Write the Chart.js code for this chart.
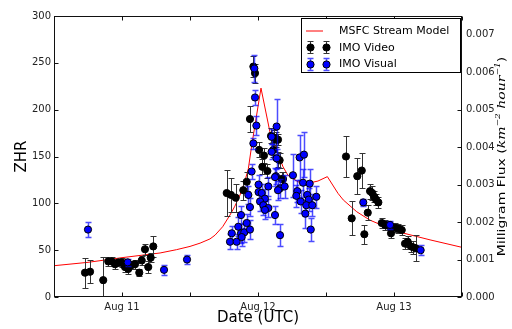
<!DOCTYPE html>
<html>
<head>
<meta charset="utf-8">
<script src="https://cdn.jsdelivr.net/npm/chart.js@4.4.0/dist/chart.umd.min.js"></script>
<style>
  html, body { margin: 0; padding: 0; background: #fff; }
  #myChart { display: block; }
</style>
</head>
<body>
<canvas id="myChart" width="512" height="329"></canvas>
<script>
// x values are days of August (UTC), 12.0 = Aug 12 00:00
const modelDay = [10.5, 10.75, 11.0, 11.28, 11.4, 11.5, 11.574, 11.647, 11.684, 11.74, 11.794, 11.83, 11.868, 11.9, 11.929, 11.954, 12.022, 12.088, 12.147, 12.184, 12.22, 12.294, 12.368, 12.441, 12.51, 12.588, 12.627, 12.726, 12.824, 13.02, 13.265, 13.5];
const modelZhr = [33.4, 37, 42, 47, 50.5, 54, 57.5, 62, 66, 75, 87.5, 97, 109, 122, 137, 162, 223, 176, 153, 139, 130, 123, 121.4, 123.8, 128.5, 110.7, 103.6, 91, 82, 70, 61, 53];

const videoDay = [10.728, 10.765, 10.862, 10.899, 10.924, 10.949, 10.973, 10.998, 11.022, 11.046, 11.071, 11.096, 11.127, 11.145, 11.169, 11.193, 11.211, 11.230,
  11.770, 11.801, 11.836, 11.892, 11.917, 11.941, 11.966, 11.978, 12.008, 12.044, 12.032, 12.069, 12.096, 12.120, 12.112, 12.132, 12.149, 12.159, 12.174, 12.184, 12.147,
  12.647, 12.689, 12.730, 12.763, 12.782, 12.807, 12.824, 12.840, 12.855, 12.868, 12.885, 12.910, 12.934, 12.958, 12.978, 13.007, 13.032, 13.057, 13.081, 13.101, 13.125, 13.142, 13.162];
const videoZhr = [26, 27, 18, 38, 38, 35, 37, 37, 32, 30, 34, 35, 26, 39, 51, 32, 42, 54,
  111, 109, 106, 114, 123, 190, 246, 239, 157, 151, 139, 134.5, 172, 170, 157, 168, 147, 146, 126, 126, 168,
  150, 84, 129, 135, 67, 90, 113, 111, 107, 104, 101, 79, 77, 76, 68, 74, 73, 71.5, 57, 59, 54, 53, 52];
const videoErr = [16, 12, 25, 5, 5, 5, 4, 5, 5, 5, 4, 5, 4, 5, 6, 6, 5, 11,
  25, 18, 15, 10, 10, 14, 11, 10, 8, 8, 8, 7, 8, 8, 8, 8, 8, 8, 7, 7, 6,
  22, 18, 19, 19, 10, 8, 8, 7, 6, 6, 6, 5, 5, 5, 5, 5, 5, 5, 6, 6, 6, 7, 14];

const visualDay = [10.75, 11.042, 11.309, 11.478,
  11.973, 11.978, 11.988, 11.966, 12.137, 12.100, 12.100, 11.953, 12.132, 11.929, 11.941, 11.875, 11.917, 11.855, 11.875, 11.899, 11.807, 11.794, 11.843,
  12.004, 12.004, 12.027, 12.051, 12.015, 12.039, 12.076, 12.051, 12.125, 12.076, 12.125, 12.137, 12.162, 12.162, 12.196, 12.147, 11.880, 11.941,
  12.257, 12.306, 12.338, 12.331, 12.380, 12.289, 12.282, 12.314, 12.362, 12.373, 12.355, 12.399, 12.429, 12.348, 12.388,
  12.774, 12.971, 13.196];
const visualZhr = [72, 37, 29, 40,
  244, 213, 183, 164, 182, 171, 155, 134, 129, 109, 96, 87.5, 79, 75, 68, 69, 68, 59, 59,
  120, 112, 111, 105, 102, 98, 95, 93, 87.5, 118, 128, 148, 116, 66, 118, 114, 64, 72,
  130, 149, 152, 122, 121, 113, 108, 102, 109, 104, 98, 98, 107, 89, 72,
  101, 77, 50];
const visualErr = [8, 4, 5, 5,
  14, 8, 10, 6, 29, 8, 8, 8, 8, 10, 10, 10, 10, 10, 10, 10, 8, 8, 8,
  10, 10, 10, 10, 10, 10, 10, 10, 10, 10, 10, 10, 10, 12, 12, 10, 10, 10,
  23, 24, 24, 15, 16, 12, 12, 12, 12, 12, 12, 12, 12, 15, 12,
  4, 4, 5];

const tickDays = [10.5, 11, 11.5, 12, 12.5, 13, 13.5];
const labelDays = [11, 12, 13];
const labelNames = ["Aug 11", "Aug 12", "Aug 13"];
const zhrTicks = [0, 50, 100, 150, 200, 250, 300];
const fluxTicks = [0, 0.001, 0.002, 0.003, 0.004, 0.005, 0.006, 0.007];

const legendItems = ["MSFC Stream Model", "IMO Video", "IMO Visual"];

const pts = (xs, ys) => xs.map((x, i) => ({ x: x, y: ys[i] }));

// error bars, drawn just before each scatter series
const errorBars = {
  id: "errorBars",
  beforeDatasetDraw(chart, args) {
    const ds = chart.data.datasets[args.index];
    if (!ds.errors) return;
    const ctx = chart.ctx, a = chart.chartArea;
    const xs = chart.scales.x, ys = chart.scales.y;
    ctx.save();
    ctx.beginPath();
    ctx.rect(a.left, a.top, a.right - a.left, a.bottom - a.top);
    ctx.clip();
    ctx.strokeStyle = ds.errorColor;
    ctx.lineWidth = ds.errorWidth;
    ds.data.forEach((p, i) => {
      const px = Math.round(xs.getPixelForValue(p.x)) + 0.5;
      const y0 = Math.round(ys.getPixelForValue(p.y - ds.errors[i])) + 0.5;
      const y1 = Math.round(ys.getPixelForValue(p.y + ds.errors[i])) + 0.5;
      ctx.beginPath();
      ctx.moveTo(px, y0); ctx.lineTo(px, y1);
      ctx.moveTo(px - 3, y0); ctx.lineTo(px + 3, y0);
      ctx.moveTo(px - 3, y1); ctx.lineTo(px + 3, y1);
      ctx.stroke();
    });
    ctx.restore();
  },
};

function errMarker(ctx, x, y, fill, bar, bw) {
  ctx.strokeStyle = bar;
  ctx.lineWidth = bw;
  ctx.beginPath();
  ctx.moveTo(x, y - 6); ctx.lineTo(x, y + 6);
  ctx.moveTo(x - 3, y - 6); ctx.lineTo(x + 3, y - 6);
  ctx.moveTo(x - 3, y + 6); ctx.lineTo(x + 3, y + 6);
  ctx.stroke();
  ctx.beginPath();
  ctx.arc(x, y, 3.6, 0, Math.PI * 2);
  ctx.fillStyle = fill;
  ctx.fill();
  ctx.strokeStyle = "#000";
  ctx.lineWidth = 1;
  ctx.stroke();
}

// frame, ticks, axis titles and legend (matplotlib look)
const decor = {
  id: "decor",
  afterDraw(chart) {
    const ctx = chart.ctx, a = chart.chartArea;
    const xs = chart.scales.x, ys = chart.scales.y, y2 = chart.scales.y2;
    const L = Math.round(a.left) + 0.5, R = Math.round(a.right) - 0.5;
    const T = Math.round(a.top) + 0.5, B = Math.round(a.bottom) - 0.5;
    ctx.save();
    ctx.strokeStyle = "#111";
    ctx.lineWidth = 1;
    ctx.strokeRect(L, T, R - L, B - T);
    ctx.beginPath();
    tickDays.forEach((d) => {
      const px = Math.round(xs.getPixelForValue(d)) + 0.5;
      ctx.moveTo(px, B); ctx.lineTo(px, B - 4);
      ctx.moveTo(px, T); ctx.lineTo(px, T + 4);
    });
    zhrTicks.forEach((v) => {
      const py = Math.round(ys.getPixelForValue(v)) + 0.5;
      ctx.moveTo(L, py); ctx.lineTo(L + 4, py);
    });
    fluxTicks.forEach((v) => {
      const py = Math.round(y2.getPixelForValue(v)) + 0.5;
      ctx.moveTo(R, py); ctx.lineTo(R - 4, py);
    });
    ctx.stroke();

    // axis titles
    ctx.fillStyle = "#000";
    ctx.textBaseline = "middle";
    ctx.textAlign = "center";
    ctx.font = '15px "DejaVu Sans"';
    ctx.fillText("Date (UTC)", (a.left + a.right) / 2, 318);
    ctx.save();
    ctx.translate(22, (a.top + a.bottom) / 2);
    ctx.rotate(-Math.PI / 2);
    ctx.fillText("ZHR", 0, 0);
    ctx.restore();

    const parts = [
      { t: "Milligram Flux (", f: '14px "DejaVu Sans"', dy: 0 },
      { t: "km", f: 'italic 14px "DejaVu Serif"', dy: 0 },
      { t: "\u22122", f: 'italic 9px "DejaVu Serif"', dy: -5 },
      { t: " hour", f: 'italic 14px "DejaVu Serif"', dy: 0 },
      { t: "\u22121", f: 'italic 9px "DejaVu Serif"', dy: -5 },
      { t: ")", f: '14px "DejaVu Sans"', dy: 0 },
    ];
    let total = 0;
    parts.forEach((p) => { ctx.font = p.f; p.w = ctx.measureText(p.t).width; total += p.w; });
    ctx.save();
    ctx.translate(502, (a.top + a.bottom) / 2);
    ctx.rotate(-Math.PI / 2);
    ctx.scale(1, 0.8);
    ctx.textAlign = "left";
    let cx = -total / 2;
    parts.forEach((p) => { ctx.font = p.f; ctx.fillText(p.t, cx, p.dy); cx += p.w; });
    ctx.restore();

    // legend box
    const bx = 301.5, by = 18.5, bw = R - 301.5 - 1, bh = 54;
    ctx.fillStyle = "#fff";
    ctx.fillRect(bx, by, bw, bh);
    ctx.strokeStyle = "#000";
    ctx.strokeRect(bx, by, bw, bh);
    ctx.strokeStyle = "#ff0000";
    ctx.beginPath();
    ctx.moveTo(306, 31); ctx.lineTo(323, 31);
    ctx.stroke();
    errMarker(ctx, 310.5, 47.5, "#000", "#333", 1);
    errMarker(ctx, 326.5, 47.5, "#000", "#333", 1);
    errMarker(ctx, 310.5, 64.5, "#0000ff", "rgba(0,0,255,0.7)", 1.5);
    errMarker(ctx, 326.5, 64.5, "#0000ff", "rgba(0,0,255,0.7)", 1.5);
    ctx.fillStyle = "#000";
    ctx.font = '11px "DejaVu Sans"';
    ctx.textAlign = "left";
    ctx.textBaseline = "middle";
    legendItems.forEach((t, i) => ctx.fillText(t, 339, 31 + i * 16.7));
    ctx.restore();
  },
};

const tickFont = { family: "DejaVu Sans", size: 10 };

var ctx = document.getElementById("myChart").getContext("2d");
var myChart = new Chart(ctx, {
  type: "scatter",
  data: {
    datasets: [
      {
        type: "line",
        label: legendItems[0],
        data: pts(modelDay, modelZhr),
        borderColor: "#ff0000",
        borderWidth: 1,
        pointRadius: 0,
        tension: 0,
        fill: false,
        order: 3,
      },
      {
        label: legendItems[1],
        data: pts(videoDay, videoZhr),
        errors: videoErr,
        errorColor: "#333",
        errorWidth: 1,
        backgroundColor: "#000",
        borderColor: "#000",
        borderWidth: 1,
        pointRadius: 3.6,
        order: 2,
      },
      {
        label: legendItems[2],
        data: pts(visualDay, visualZhr),
        errors: visualErr,
        errorColor: "rgba(0,0,255,0.7)",
        errorWidth: 1.5,
        backgroundColor: "#0000ff",
        borderColor: "#000",
        borderWidth: 1,
        pointRadius: 3.6,
        order: 1,
      },
    ],
  },
  options: {
    responsive: false,
    animation: false,
    layout: { padding: { top: 16, left: 0, right: 0, bottom: 0 } },
    plugins: { legend: { display: false }, tooltip: { enabled: false } },
    scales: {
      x: {
        type: "linear",
        min: 10.5,
        max: 13.5,
        afterFit: (s) => { s.height = 32; },
        afterBuildTicks: (s) => { s.ticks = tickDays.map((v) => ({ value: v })); },
        ticks: {
          autoSkip: false,
          maxRotation: 0,
          padding: 4,
          color: "#222",
          font: tickFont,
          callback: (v) => {
            const i = labelDays.indexOf(v);
            return i >= 0 ? labelNames[i] : "";
          },
        },
        grid: { drawOnChartArea: false, drawTicks: false },
        border: { display: false },
      },
      y: {
        position: "left",
        min: 0,
        max: 300,
        afterFit: (s) => { s.width = 54; },
        afterBuildTicks: (s) => { s.ticks = zhrTicks.map((v) => ({ value: v })); },
        ticks: { padding: 3, color: "#222", font: tickFont },
        grid: { drawOnChartArea: false, drawTicks: false },
        border: { display: false },
      },
      y2: {
        position: "right",
        min: 0,
        max: 0.0075,
        afterFit: (s) => { s.width = 50; },
        afterBuildTicks: (s) => { s.ticks = fluxTicks.map((v) => ({ value: v })); },
        ticks: { padding: 4, color: "#222", font: tickFont, callback: (v) => v.toFixed(3) },
        grid: { drawOnChartArea: false, drawTicks: false },
        border: { display: false },
      },
    },
  },
  plugins: [errorBars, decor],
});
</script>
</body>
</html>
